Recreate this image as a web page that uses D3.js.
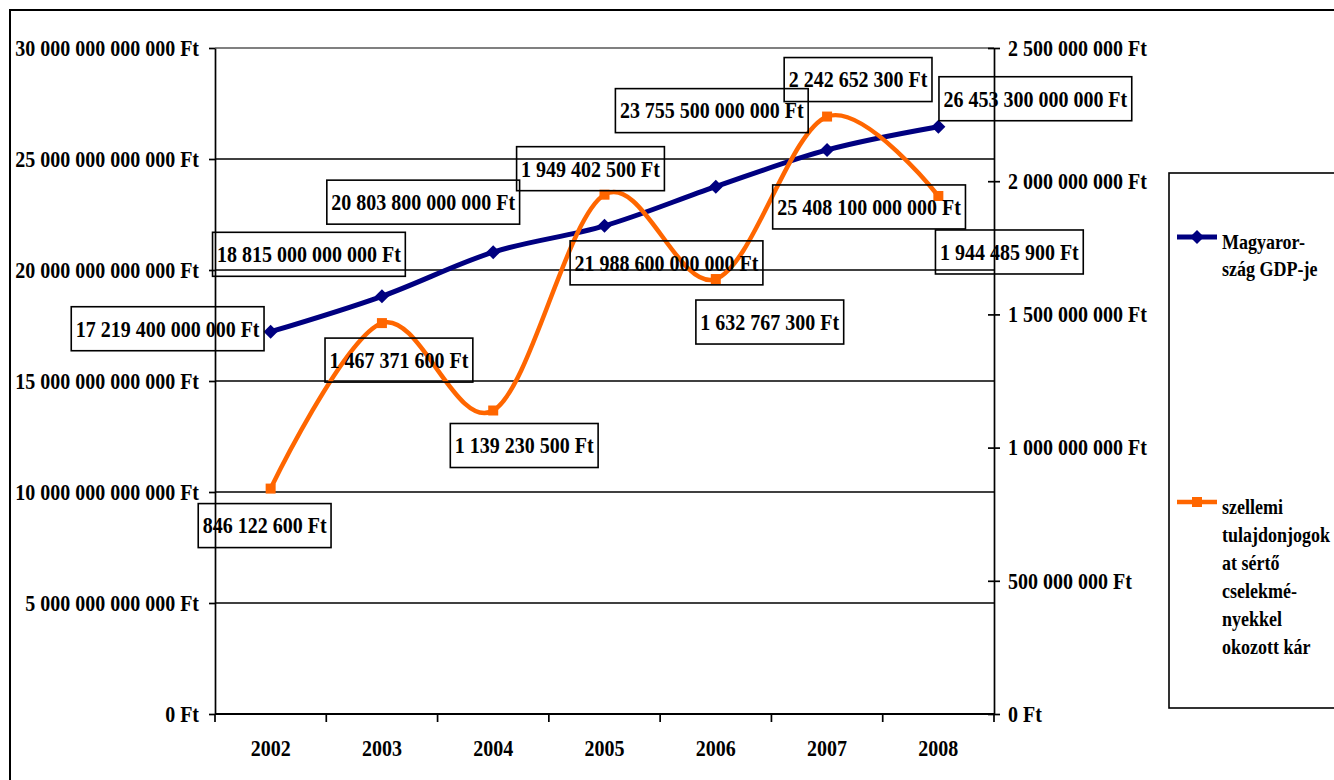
<!DOCTYPE html>
<html><head><meta charset="utf-8">
<script src="https://cdn.jsdelivr.net/npm/d3@7"></script>
<style>
body{margin:0;background:#fff;overflow:hidden}
text{font-family:"Liberation Serif","Times New Roman",serif;font-weight:bold;fill:#000;
  transform-box:fill-box;transform-origin:center;transform:scaleY(1.13)}
</style>
</head><body><svg id="c" width="1334" height="780"></svg>
<script>
// ---- data ----
const years = ["2002","2003","2004","2005","2006","2007","2008"];
const gdp = [17219400000000, 18815000000000, 20803800000000, 21988600000000, 23755500000000, 25408100000000, 26453300000000];
const damage = [846122600, 1467371600, 1139230500, 1949402500, 1632767300, 2242652300, 1944485900];
const leftTicks = [0, 5e12, 10e12, 15e12, 20e12, 25e12, 30e12];
const rightTicks = [0, 5e8, 1e9, 1.5e9, 2e9, 2.5e9];
const gdpLegend = ["Magyaror-", "szág GDP-je"];
const damageLegend = ["szellemi", "tulajdonjogok", "at sértő", "cselekmé-", "nyekkel", "okozott kár"];
// label box centre offsets from their points
const gdpLabelOffsets = [[-103,-3],[-73,-42],[-70,-50],[62,37],[-4,-76],[42,57],[97,-28]];
const damageLabelOffsets = [[-6,37],[17,37],[31,35],[-14,-26],[54,43],[31,-37],[71,56]];

const loc = d3.formatLocale({decimal:",", thousands:" ", grouping:[3], currency:["",""]});
const fmt = v => loc.format(",.0f")(v) + " Ft";

const svg = d3.select("#c");
const L = 215, R = 994, T = 48, B = 714;
const x = d3.scaleBand().domain(years).range([L, R]);
const cx = d => x(d) + x.bandwidth()/2;
const yL = d3.scaleLinear().domain([0, 30e12]).range([B, T]);
const yR = d3.scaleLinear().domain([0, 2.5e9]).range([B, T]);

// outer border
svg.append("rect").attr("x",10).attr("y",10).attr("width",1400).attr("height",800)
  .attr("fill","none").attr("stroke","#000").attr("stroke-width",2);

// gridlines
svg.append("g").selectAll("line").data(leftTicks.filter(t => t > 0)).join("line")
  .attr("x1", L).attr("x2", R).attr("y1", d => yL(d)).attr("y2", d => yL(d))
  .attr("stroke", d => d === 30e12 ? "#808080" : "#000")
  .attr("stroke-width", d => d === 30e12 ? 2 : 1.4);

// left axis
const ga = svg.append("g").attr("transform",`translate(${L},0)`)
  .call(d3.axisLeft(yL).tickValues(leftTicks).tickFormat(fmt).tickSize(6).tickSizeOuter(0).tickPadding(10));
ga.selectAll("text").attr("font-size",20);
ga.attr("font-family",null);
ga.selectAll("line,path").attr("stroke","#000").attr("stroke-width",1.7);

// right axis
const gr = svg.append("g").attr("transform",`translate(${R},0)`)
  .call(d3.axisRight(yR).tickValues(rightTicks).tickFormat(fmt).tickSize(6).tickSizeOuter(0).tickPadding(8));
gr.selectAll("text").attr("font-size",20);
gr.attr("font-family",null);
gr.selectAll(".tick line").attr("x1",-6);
gr.selectAll("line,path").attr("stroke","#000").attr("stroke-width",1.7);

// bottom axis
const gb = svg.append("g").attr("transform",`translate(0,${B})`)
  .call(d3.axisBottom(x).tickSize(0).tickPadding(27));
gb.selectAll("text").attr("font-size",20);
gb.attr("font-family",null);
gb.select(".domain").remove();
const bounds = years.map(d => x(d)).concat([R]);
svg.append("line").attr("x1",L).attr("x2",R).attr("y1",B).attr("y2",B).attr("stroke","#000").attr("stroke-width",1.9);
svg.append("g").selectAll("line").data(bounds).join("line")
  .attr("x1", d => d).attr("x2", d => d).attr("y1", B).attr("y2", B + 8)
  .attr("stroke","#000").attr("stroke-width",1.7);

// lines
const curve = d3.curveCatmullRom.alpha(0);
const gdpLine = d3.line().x((d,i) => cx(years[i])).y(d => yL(d)).curve(curve);
const dmgLine = d3.line().x((d,i) => cx(years[i])).y(d => yR(d)).curve(curve);
const navy = "#000080", orange = "#FF6600";

svg.append("path").attr("d", gdpLine(gdp)).attr("fill","none").attr("stroke",navy).attr("stroke-width",5).attr("stroke-linejoin","round");
svg.append("g").selectAll("path").data(gdp).join("path")
  .attr("d",(d,i) => { const px = cx(years[i]), py = yL(d), s = 7; return `M${px},${py-s}L${px+s},${py}L${px},${py+s}L${px-s},${py}Z`; })
  .attr("fill",navy);

svg.append("path").attr("d", dmgLine(damage)).attr("fill","none").attr("stroke",orange).attr("stroke-width",4.5).attr("stroke-linejoin","round");
svg.append("g").selectAll("rect").data(damage).join("rect")
  .attr("x",(d,i) => cx(years[i]) - 5).attr("y", d => yR(d) - 5).attr("width",10).attr("height",10)
  .attr("fill",orange);

// data labels
function labels(vals, yScale, offs) {
  const g = svg.append("g");
  vals.forEach((v,i) => {
    const px = cx(years[i]) + offs[i][0], py = yScale(v) + offs[i][1];
    const t = g.append("text").attr("x",px).attr("y",py+7).attr("text-anchor","middle").attr("font-size",20).text(fmt(v));
    const w = t.node().getComputedTextLength() + 9;
    g.insert("rect","text").attr("x",px - w/2).attr("y",py - 22).attr("width",w).attr("height",44)
      .attr("fill","none").attr("stroke","#000").attr("stroke-width",1.6);
  });
}
labels(gdp, yL, gdpLabelOffsets);
labels(damage, yR, damageLabelOffsets);

// legend
svg.append("rect").attr("x",1169).attr("y",173).attr("width",220).attr("height",535)
  .attr("fill","none").attr("stroke","#000").attr("stroke-width",1.6);
const lg = svg.append("g");
lg.append("line").attr("x1",1177).attr("x2",1217).attr("y1",237).attr("y2",237).attr("stroke",navy).attr("stroke-width",5);
lg.append("path").attr("d","M1197,230L1204,237L1197,244L1190,237Z").attr("fill",navy);
gdpLegend.forEach((s,i) => lg.append("text").attr("x",1222).attr("y",248 + i*27).attr("font-size",18).text(s));
lg.append("line").attr("x1",1177).attr("x2",1217).attr("y1",502).attr("y2",502).attr("stroke",orange).attr("stroke-width",4.5);
lg.append("rect").attr("x",1192).attr("y",497).attr("width",10).attr("height",10).attr("fill",orange);
damageLegend.forEach((s,i) => lg.append("text").attr("x",1222).attr("y",513 + i*28).attr("font-size",18).text(s));
</script>
</body></html>
